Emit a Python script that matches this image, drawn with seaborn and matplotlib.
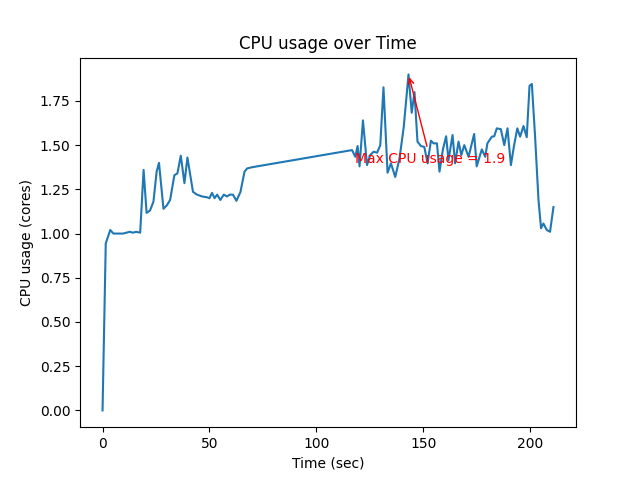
"""CPU usage over time line chart"""
import matplotlib
matplotlib.use("Agg")
import matplotlib.pyplot as plt
import pandas as pd
import seaborn as sns

time_sec = [
    0, 1.5, 3.6, 5.1, 6.6, 8.1, 9.6, 11.2, 12.7, 14.2, 15.7, 17.6,
    19.2, 20.6, 22.2, 23.8, 25.3, 26.4, 28.5, 30.1, 31.6, 33.6, 35.0, 36.6,
    38.3, 39.7, 42.3, 44.2, 46.5, 48.9, 50.0, 51.2, 52.4, 53.6, 55.1, 56.7,
    58.2, 59.5, 61.0, 62.6, 64.5, 66.4, 67.6, 69.9,
    116.7, 118.2, 119.3, 120.2, 121.8, 123.7, 125.2, 126.8, 128.4, 129.9,
    131.4, 133.3, 134.9, 136.9, 138.9, 140.9, 143.1, 144.6, 145.9, 147.3,
    148.9, 150.5, 152.0, 153.6, 154.8, 156.4, 157.6, 159.2, 160.7, 161.8,
    163.7, 164.9, 166.5, 167.8, 169.2, 171.2, 173.8, 175.0, 177.4, 179.0,
    180.0, 182.1, 183.2, 184.4, 186.3, 187.9, 189.4, 191.0, 192.5, 194.0,
    195.3, 196.9, 198.4, 199.7, 200.8, 202.3, 203.9, 205.1, 206.2, 207.8,
    209.3, 210.9,
]
cpu_cores = [
    0.0, 0.944, 1.02, 1.0, 1.0, 1.0, 1.0, 1.005, 1.01, 1.005, 1.01, 1.005,
    1.36, 1.117, 1.13, 1.18, 1.35, 1.40, 1.14, 1.16, 1.19, 1.33, 1.34, 1.44,
    1.285, 1.43, 1.236, 1.22, 1.21, 1.205, 1.20, 1.23, 1.20, 1.22, 1.19, 1.22,
    1.21, 1.22, 1.22, 1.185, 1.235, 1.35, 1.368, 1.375,
    1.472, 1.434, 1.495, 1.38, 1.64, 1.387, 1.444, 1.463, 1.457, 1.50,
    1.827, 1.344, 1.397, 1.32, 1.425, 1.605, 1.90, 1.683, 1.80, 1.52,
    1.495, 1.49, 1.397, 1.525, 1.51, 1.51, 1.35, 1.476, 1.55, 1.415,
    1.557, 1.397, 1.52, 1.444, 1.50, 1.434, 1.563, 1.38, 1.476, 1.434,
    1.51, 1.548, 1.55, 1.595, 1.59, 1.50, 1.595, 1.387, 1.50, 1.595,
    1.548, 1.608, 1.545, 1.835, 1.846, 1.55, 1.19, 1.03, 1.057, 1.02,
    1.01, 1.15,
]

df = pd.DataFrame({"time": time_sec, "cpu": cpu_cores})

fig, ax = plt.subplots(figsize=(6.4, 4.8), dpi=100)
sns.lineplot(data=df, x="time", y="cpu", ax=ax, color="#1f77b4", linewidth=1.5)

# 최대값 표시
max_idx = df["cpu"].idxmax()
t_max = df.loc[max_idx, "time"]
max_cpu = df.loc[max_idx, "cpu"]
ax.annotate(
    f"Max CPU usage = {max_cpu}",
    xy=(t_max, max_cpu),
    xytext=(t_max - 25, max_cpu - 0.5),
    arrowprops=dict(arrowstyle="->", color="red"),
    color="red",
)

ax.set_title("CPU usage over Time")
ax.set_xlabel("Time (sec)")
ax.set_ylabel("CPU usage (cores)")

plt.savefig("out.png", dpi=100)
plt.close()
